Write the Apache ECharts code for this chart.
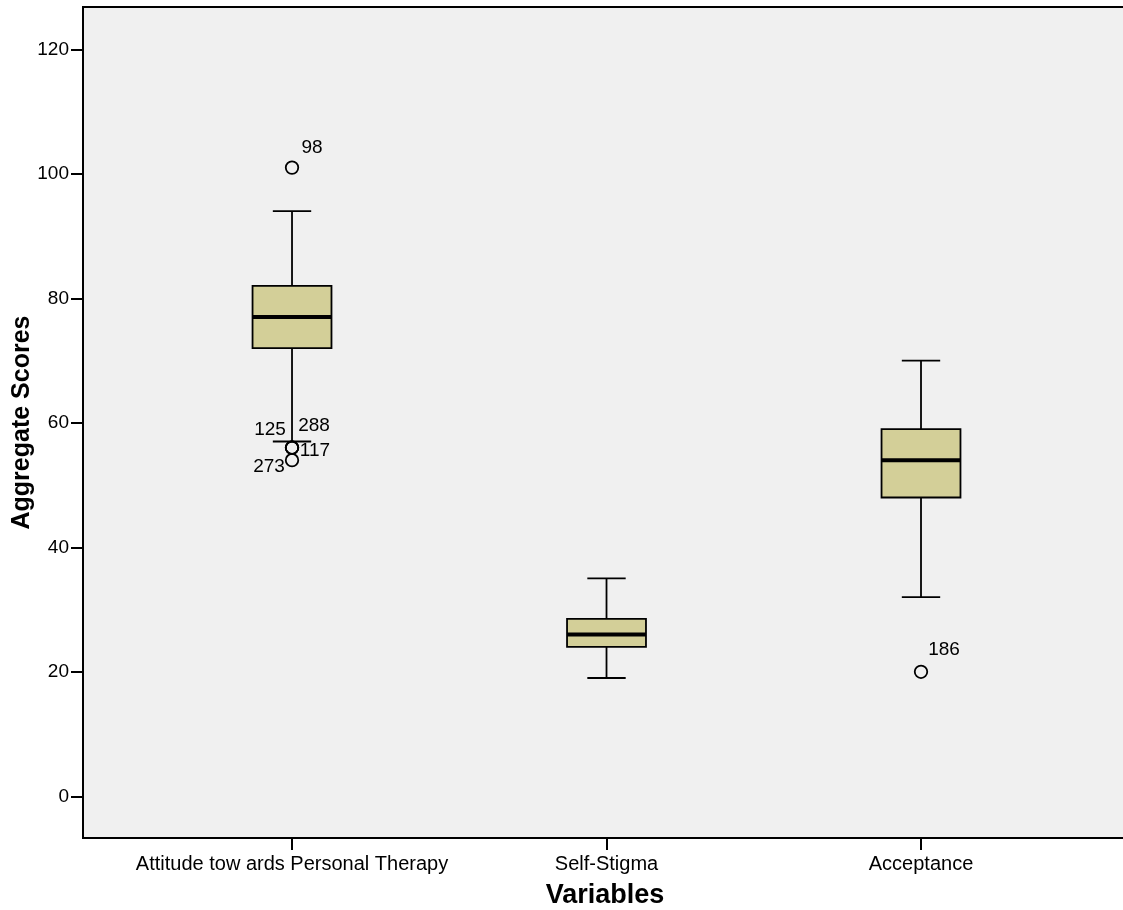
<!DOCTYPE html>
<html>
<head>
<meta charset="utf-8">
<script src="https://cdn.jsdelivr.net/npm/echarts@6/dist/echarts.min.js"></script>
<style>html,body{margin:0;padding:0;background:#fff}#c{width:1123px;height:910px}</style>
</head>
<body>
<div id="c"></div>
<script>
// ---- data ----
var categories = ['Attitude tow ards Personal Therapy', 'Self-Stigma', 'Acceptance'];
var whiskerLow = [57, 19, 32];
var q1 = [72, 24, 48];
var median = [77, 26, 54];
var q3 = [82, 28.5, 59];
var whiskerHigh = [94, 35, 70];
var outlierCat = [0, 0, 0, 0, 0, 2];
var outlierVal = [101, 56, 56, 56, 54, 20];
var outlierId = ['98', '125', '288', '117', '273', '186'];
var yTicks = [0, 20, 40, 60, 80, 100, 120];

// ---- label placement (style, not data) ----
var labelOffsets = {
  '98': [20, -20], '125': [-22, -18], '288': [22, -22],
  '117': [23, 3], '273': [-23, 7], '186': [23, -22]
};

var FONT = '"Liberation Sans", Arial, sans-serif';
var boxData = categories.map(function (c, i) {
  return [i, whiskerLow[i], q1[i], median[i], q3[i], whiskerHigh[i]];
});
var outlierData = outlierVal.map(function (v, i) {
  return {
    value: [outlierCat[i], v],
    name: outlierId[i],
    label: { offset: labelOffsets[outlierId[i]] }
  };
});

var chart = echarts.init(document.getElementById('c'), null, { renderer: 'canvas' });
chart.setOption({
  animation: false,
  backgroundColor: '#ffffff',
  grid: {
    left: 83, top: 7, right: -4, height: 831,
    outerBoundsMode: 'none',
    containLabel: false,
    show: true, backgroundColor: '#f0f0f0',
    borderColor: '#000', borderWidth: 2
  },
  xAxis: {
    type: 'value',
    min: -0.6646, max: 2.655,
    splitLine: { show: false },
    axisLine: { show: false, onZero: false },
    axisTick: { show: true, length: 12, lineStyle: { color: '#000', width: 2 }, customValues: [0, 1, 2] },
    axisLabel: {
      customValues: [0, 1, 2],
      margin: 16, color: '#000', fontSize: 20, fontFamily: FONT,
      formatter: function (v) { return categories[Math.round(v)]; }
    },
    name: 'Variables', nameLocation: 'middle', nameGap: 44,
    nameMoveOverlap: false,
    nameTextStyle: { color: '#000', fontSize: 27, fontWeight: 'bold', fontFamily: FONT }
  },
  yAxis: {
    type: 'value',
    min: -6.7, max: 126.8,
    splitLine: { show: false },
    axisLine: { show: false, onZero: false },
    axisTick: { show: true, length: 12, lineStyle: { color: '#000', width: 2 }, customValues: yTicks },
    axisLabel: { customValues: yTicks, margin: 14, color: '#000', fontSize: 19, fontFamily: FONT },
    name: 'Aggregate Scores', nameLocation: 'middle', nameGap: 48,
    nameMoveOverlap: false,
    nameTextStyle: { color: '#000', fontSize: 25, fontWeight: 'bold', fontFamily: FONT }
  },
  series: [
    {
      type: 'custom',
      data: boxData,
      encode: { x: 0, y: [1, 2, 3, 4, 5] },
      renderItem: function (params, api) {
        var x = api.value(0);
        var unit = api.size([1, 0])[0];
        var bw = unit * 0.251, cw = unit * 0.122;
        var pLo = api.coord([x, api.value(1)]);
        var pQ1 = api.coord([x, api.value(2)]);
        var pMd = api.coord([x, api.value(3)]);
        var pQ3 = api.coord([x, api.value(4)]);
        var pHi = api.coord([x, api.value(5)]);
        var cx = pMd[0];
        var ls = { stroke: '#000', lineWidth: 1.8 };
        return {
          type: 'group',
          children: [
            { type: 'line', shape: { x1: cx, y1: pHi[1], x2: cx, y2: pQ3[1] }, style: ls },
            { type: 'line', shape: { x1: cx, y1: pQ1[1], x2: cx, y2: pLo[1] }, style: ls },
            { type: 'line', shape: { x1: cx - cw / 2, y1: pHi[1], x2: cx + cw / 2, y2: pHi[1] }, style: ls },
            { type: 'line', shape: { x1: cx - cw / 2, y1: pLo[1], x2: cx + cw / 2, y2: pLo[1] }, style: ls },
            { type: 'rect', shape: { x: cx - bw / 2, y: pQ3[1], width: bw, height: pQ1[1] - pQ3[1] },
              style: { fill: '#d3cf98', stroke: '#000', lineWidth: 1.8 } },
            { type: 'line', shape: { x1: cx - bw / 2, y1: pMd[1], x2: cx + bw / 2, y2: pMd[1] },
              style: { stroke: '#000', lineWidth: 4 } }
          ]
        };
      }
    },
    {
      type: 'scatter',
      data: outlierData,
      symbol: 'circle',
      symbolSize: 12.5,
      itemStyle: { color: 'rgba(0,0,0,0)', borderColor: '#000', borderWidth: 1.8, opacity: 1 },
      label: {
        show: true, position: 'inside',
        formatter: function (p) { return p.name; },
        color: '#000', fontSize: 19, fontFamily: FONT
      },
      emphasis: { disabled: true }
    }
  ]
});
</script>
</body>
</html>
